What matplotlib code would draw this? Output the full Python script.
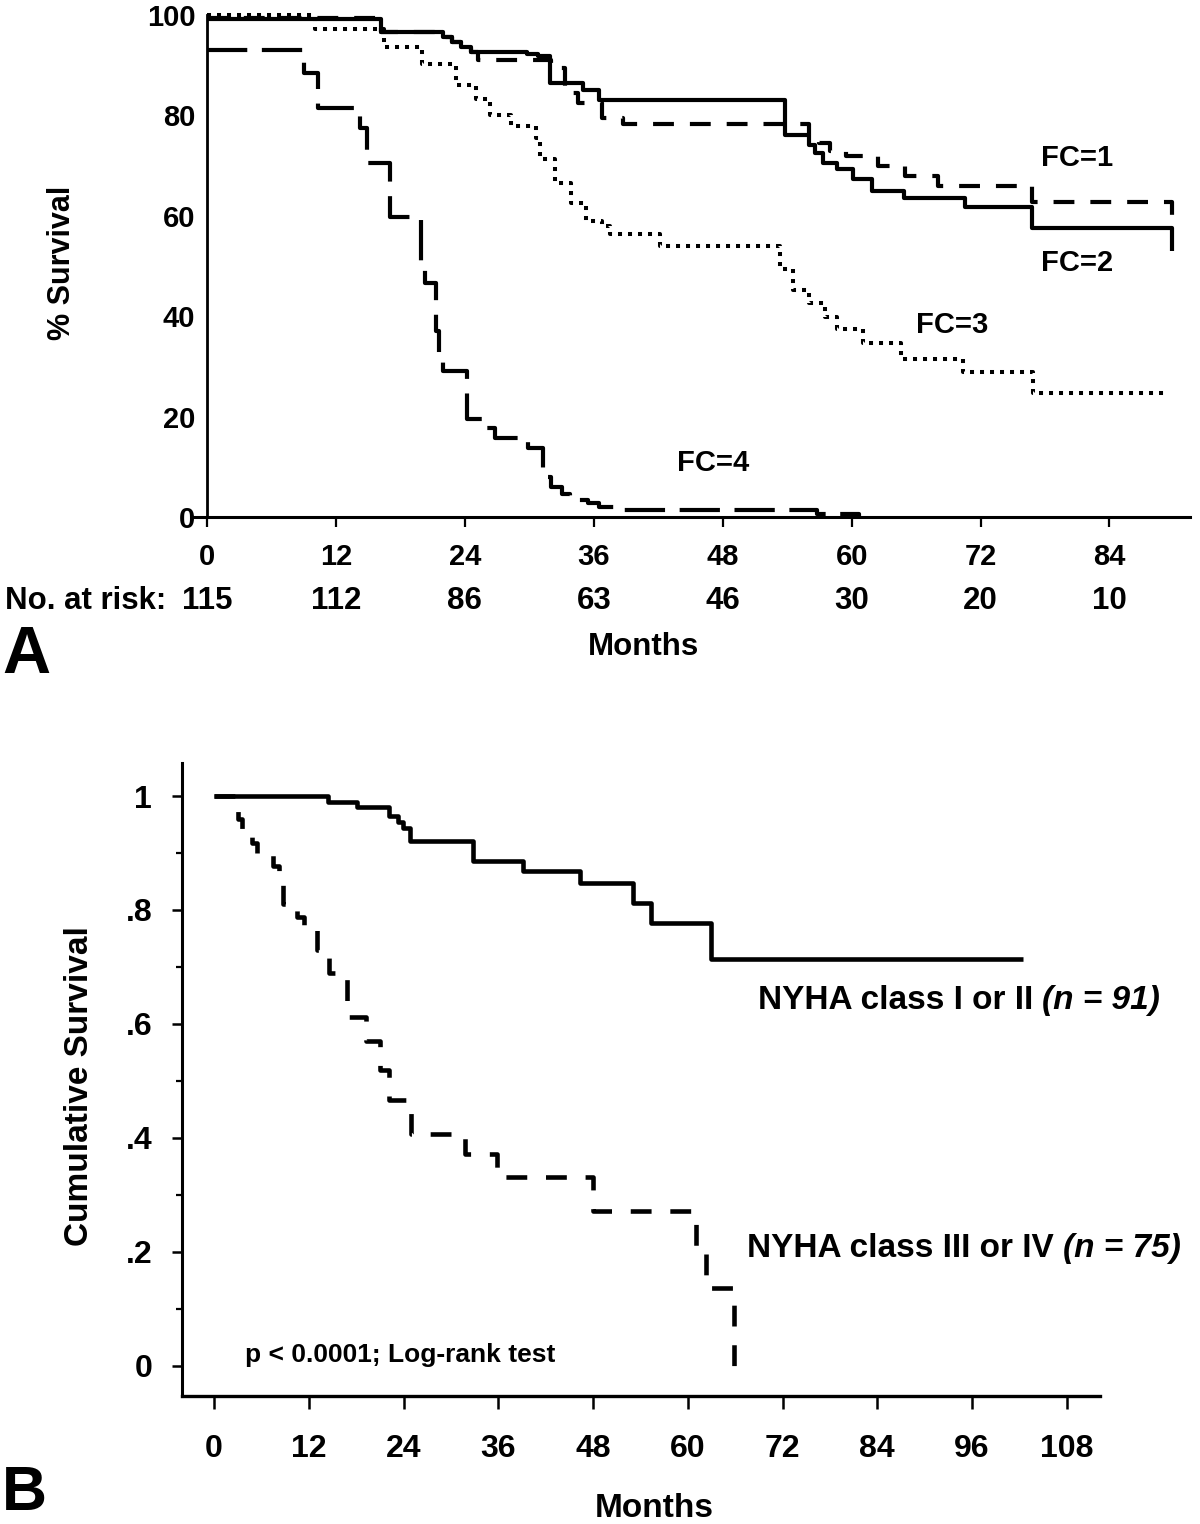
import matplotlib
matplotlib.use("Agg")
import matplotlib.pyplot as plt
import matplotlib.transforms as mtransforms

plt.rcParams['font.family'] = ['Liberation Sans', 'DejaVu Sans']
plt.rcParams['font.weight'] = 'bold'
plt.rcParams['lines.scale_dashes'] = False

# ---------------- Panel A data (months, % survival) ----------------
fc1_t = [0, 16.2, 22.0, 22.8, 23.6, 24.6, 25.2, 32.0, 33.3, 34.5, 36.8, 38.7,
         56.0, 57.0, 58.0, 59.5, 62.5, 65.0, 68.0, 76.8, 89.8]
fc1_s = [99.5, 96.7, 95.7, 94.7, 93.7, 92.7, 91.0, 89.5, 84.5, 82.4, 79.5, 78.3,
         76.0, 74.5, 73.0, 72.0, 70.0, 68.0, 66.0, 62.7, 58.5]
fc1_end = 89.8

fc2_t = [0, 16.2, 22.0, 22.8, 23.6, 24.6, 29.8, 30.8, 31.9, 35.0, 36.5, 53.8,
         56.0, 56.6, 57.3, 58.6, 60.1, 61.9, 64.9, 70.6, 76.8, 89.8]
fc2_s = [99.3, 96.7, 95.7, 94.7, 93.7, 92.7, 92.3, 91.8, 86.4, 85.0, 83.0, 76.0,
         74.2, 72.6, 70.6, 69.3, 67.3, 64.9, 63.5, 61.8, 57.6, 53.0]
fc2_end = 89.8

fc3_t = [0, 10.0, 16.5, 20.0, 23.2, 25.0, 26.3, 28.3, 30.6, 31.0, 32.4, 33.9,
         35.3, 36.8, 37.5, 42.2, 53.3, 54.5, 56.0, 57.5, 58.6, 61.1, 64.6, 70.4, 76.9]
fc3_s = [100.0, 97.3, 93.6, 90.3, 86.0, 83.3, 80.0, 77.8, 75.5, 71.4, 66.6, 62.5,
         59.0, 58.0, 56.3, 54.0, 49.4, 45.2, 42.6, 39.8, 37.4, 34.7, 31.5, 28.8, 24.7]
fc3_end = 89.1

fc4_t = [0, 9.0, 10.3, 14.2, 14.9, 17.0, 19.9, 20.3, 21.3, 21.6, 22.0, 24.2,
         25.7, 26.8, 29.9, 31.3, 32.0, 33.0, 33.8, 35.5, 36.5, 38.0, 56.8, 60.7]
fc4_s = [93.0, 88.5, 81.5, 77.5, 70.5, 59.7, 50.0, 46.6, 37.0, 31.5, 29.0, 19.5,
         17.7, 15.7, 13.7, 8.0, 6.0, 4.5, 3.4, 2.8, 2.0, 1.4, 0.6, 0.0]
fc4_end = 60.7

a_xticks = [0, 12, 24, 36, 48, 60, 72, 84]
a_yticks = [0, 20, 40, 60, 80, 100]
at_risk = [115, 112, 86, 63, 46, 30, 20, 10]

# ---------------- Panel B data (months, cumulative survival) ----------------
nyha12_t = [0, 14.4, 18.1, 22.1, 23.3, 23.9, 24.8, 32.8, 39.1, 46.4, 53.0, 55.3, 62.9]
nyha12_s = [1.0, 0.99, 0.98, 0.965, 0.954, 0.944, 0.921, 0.886, 0.868, 0.847,
            0.812, 0.777, 0.714]
nyha12_end = 102.5

nyha34_t = [0, 3.0, 3.5, 4.8, 5.4, 7.5, 8.2, 8.7, 10.5, 11.4, 13.1, 14.6, 16.9,
            19.3, 21.0, 22.2, 25.0, 31.8, 35.8, 48.0, 61.0, 62.3, 65.9]
nyha34_s = [1.0, 0.96, 0.93, 0.917, 0.90, 0.877, 0.86, 0.81, 0.787, 0.77, 0.73,
            0.69, 0.612, 0.57, 0.519, 0.466, 0.406, 0.371, 0.332, 0.271, 0.205,
            0.137, 0.0]
nyha34_end = 65.9

b_xticks = [0, 12, 24, 36, 48, 60, 72, 84, 96, 108]
b_yticks = [0, 0.2, 0.4, 0.6, 0.8, 1.0]
b_yticklabels = ['0', '.2', '.4', '.6', '.8', '1']
b_yminor = [0.1, 0.3, 0.5, 0.7, 0.9]

W, H = 1200, 1524
fig = plt.figure(figsize=(W / 100, H / 100), dpi=100)


def fx(px):
    return px / W


def fy(py):
    return 1 - py / H


def km(ax, t, s, t_end, **kw):
    tt = list(t) + [t_end]
    ss = list(s) + [s[-1]]
    ax.step(tt, ss, where='post', color='black', clip_on=False,
            solid_capstyle='butt', dash_capstyle='butt', **kw)


# ================= Panel A =================
axA = fig.add_axes([fx(191), fy(517), fx(1190) - fx(191), fy(15) - fy(517)])
axA.set_xlim(-1.5, 91.5)
axA.set_ylim(0, 100)
for sp in ['top', 'right']:
    axA.spines[sp].set_visible(False)
axA.spines['left'].set_position(('data', 0))
axA.spines['left'].set_linewidth(2.0)
axA.spines['bottom'].set_linewidth(2.2)

km(axA, fc2_t, fc2_s, fc2_end, lw=3.0, linestyle='-')
km(axA, fc1_t, fc1_s, fc1_end, lw=3.0, dashes=(15, 11.5))
km(axA, fc3_t, fc3_s, fc3_end, lw=2.9, dashes=(2.9, 4.3))
km(axA, fc4_t, fc4_s, fc4_end, lw=3.0, dashes=(29, 10.5))

axA.set_xticks(a_xticks)
axA.set_xticklabels([str(v) for v in a_xticks])
axA.set_yticks(a_yticks)
axA.set_yticklabels([str(v) for v in a_yticks])
axA.tick_params(axis='x', direction='out', length=7.5, width=1.6, pad=11, labelsize=21)
axA.tick_params(axis='y', length=0, pad=8.5, labelsize=21)

axA.text(77.6, 70.0, 'FC=1', fontsize=21, ha='left', va='baseline')
axA.text(77.6, 49.0, 'FC=2', fontsize=21, ha='left', va='baseline')
axA.text(66.0, 36.6, 'FC=3', fontsize=21, ha='left', va='baseline')
axA.text(43.7, 9.2, 'FC=4', fontsize=21, ha='left', va='baseline')

trA = mtransforms.blended_transform_factory(axA.transData, fig.transFigure)
fig.text(fx(5), fy(609), 'No. at risk:', fontsize=22.5, ha='left', va='baseline')
for m, n in zip(a_xticks, at_risk):
    axA.text(m, fy(609), str(n), transform=trA, fontsize=22.5, ha='center', va='baseline')
fig.text(fx(644), fy(655), 'Months', fontsize=22.5, ha='center', va='baseline')
fig.text(fx(62), fy(263), '% Survival', fontsize=22, rotation=90, ha='center', va='center')
fig.text(fx(2), fy(673), 'A', fontsize=48, ha='left', va='baseline')

# ================= Panel B =================
axB = fig.add_axes([fx(182), fy(1396), fx(1100) - fx(182), fy(763) - fy(1396)])
axB.set_xlim(-4.05, 112.2)
axB.set_ylim(-0.053, 1.058)
for sp in ['top', 'right']:
    axB.spines[sp].set_visible(False)
axB.spines['left'].set_linewidth(2.2)
axB.spines['bottom'].set_linewidth(2.4)

km(axB, nyha12_t, nyha12_s, nyha12_end, lw=3.3, linestyle='-')
km(axB, nyha34_t, nyha34_s, nyha34_end, lw=3.3, dashes=(15, 13.5))

axB.set_xticks(b_xticks)
axB.set_xticklabels([str(v) for v in b_xticks])
axB.set_yticks(b_yticks)
axB.set_yticklabels(b_yticklabels)
axB.set_yticks(b_yminor, minor=True)
axB.tick_params(axis='x', direction='out', length=9.5, width=1.8, pad=18, labelsize=23)
axB.tick_params(axis='y', which='major', direction='out', length=7.5, width=1.8,
                pad=14, labelsize=23)
axB.tick_params(axis='y', which='minor', direction='out', length=4, width=1.6)

fig.text(fx(758), fy(1009), 'NYHA class I or II ', fontsize=24, ha='left', va='baseline')
fig.text(fx(747), fy(1257), 'NYHA class III or IV ', fontsize=24, ha='left', va='baseline')
# italic parts placed right after the upright text
r = fig.canvas.get_renderer()
t1 = fig.texts[-2]
t2 = fig.texts[-1]
bb1 = t1.get_window_extent(renderer=r)
bb2 = t2.get_window_extent(renderer=r)
fig.text(bb1.x1 / W, fy(1009), '(n = 91)', fontsize=24, style='italic',
         ha='left', va='baseline')
fig.text(bb2.x1 / W, fy(1257), '(n = 75)', fontsize=24, style='italic',
         ha='left', va='baseline')

fig.text(fx(245), fy(1362), 'p < 0.0001; Log-rank test', fontsize=19, ha='left', va='baseline')
fig.text(fx(654), fy(1517), 'Months', fontsize=24, ha='center', va='baseline')
fig.text(fx(80), fy(1086), 'Cumulative Survival', fontsize=24, rotation=90,
         ha='center', va='center')
fig.text(fx(2), fy(1510), 'B', fontsize=45, ha='left', va='baseline')

fig.savefig('out.png', dpi=100, facecolor='white')
